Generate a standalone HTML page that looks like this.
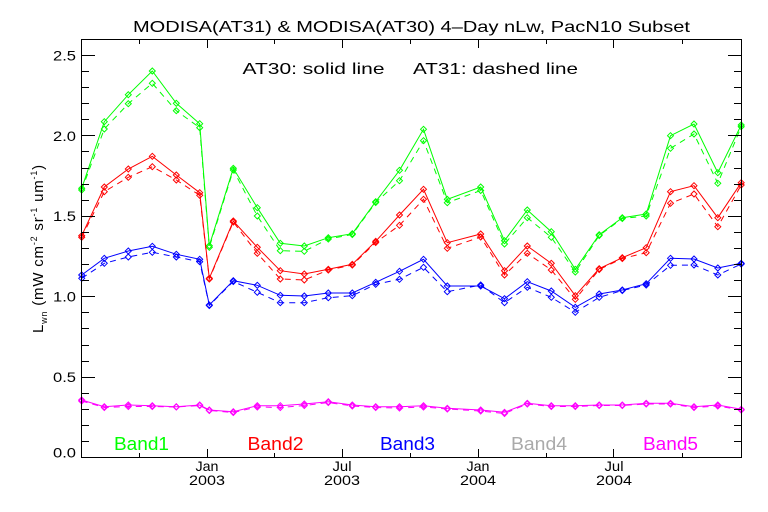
<!DOCTYPE html>
<html>
<head>
<meta charset="utf-8">
<style>
  html,body{margin:0;padding:0;background:#fff;}
  svg{display:block;}
  text{font-family:"Liberation Sans",sans-serif;}
</style>
</head>
<body>
<svg width="768" height="512" viewBox="0 0 768 512" xmlns="http://www.w3.org/2000/svg">
  <defs>
    <marker id="mg" viewBox="0 0 8 8" refX="4" refY="4" markerWidth="8" markerHeight="8" markerUnits="userSpaceOnUse"><path d="M1,4 L4,1 L7,4 L4,7 Z" fill="none" stroke="#00ff00" stroke-width="1"/></marker>
    <marker id="mr" viewBox="0 0 8 8" refX="4" refY="4" markerWidth="8" markerHeight="8" markerUnits="userSpaceOnUse"><path d="M1,4 L4,1 L7,4 L4,7 Z" fill="none" stroke="#ff0000" stroke-width="1"/></marker>
    <marker id="mb" viewBox="0 0 8 8" refX="4" refY="4" markerWidth="8" markerHeight="8" markerUnits="userSpaceOnUse"><path d="M1,4 L4,1 L7,4 L4,7 Z" fill="none" stroke="#0000ff" stroke-width="1"/></marker>
    <marker id="mm" viewBox="0 0 8 8" refX="4" refY="4" markerWidth="8" markerHeight="8" markerUnits="userSpaceOnUse"><path d="M1,4 L4,1 L7,4 L4,7 Z" fill="none" stroke="#ff00ff" stroke-width="1"/></marker>
  </defs>
  <rect width="768" height="512" fill="#fff"/>

  <!-- Title -->
  <text x="411.5" y="32" font-size="16" text-anchor="middle" textLength="557" lengthAdjust="spacingAndGlyphs">MODISA(AT31) &amp; MODISA(AT30) 4–Day nLw, PacN10 Subset</text>

  <!-- data -->
  <g fill="none" stroke-width="1">
    <polyline stroke="#00ff00" marker-start="url(#mg)" marker-mid="url(#mg)" marker-end="url(#mg)" points="81.7,188.3 104.3,121.7 128.3,94.7 152.3,71 176.3,103.3 199.7,123.7 209.3,245.7 233.3,168.3 257.3,207.7 280.3,243.3 304.3,246 328.3,237.7 352.3,233.7 375.7,201.7 399.5,170.3 423.5,129.3 447.3,199.3 480.7,187 504.5,240.7 527.3,210 551.3,231.7 575.3,269.3 599.2,234.7 622.3,217.7 646.2,214 670.5,135.7 694,124 717.8,172.7 741.2,125"/>
    <polyline stroke="#00ff00" stroke-dasharray="6 5" marker-start="url(#mg)" marker-mid="url(#mg)" marker-end="url(#mg)" points="81.7,190 104.3,129 128.3,103.7 152.3,83.3 176.3,110.7 199.7,127.7 209.3,247.3 233.3,170 257.3,216 280.3,250.7 304.3,251.3 328.3,239 352.3,234.5 375.7,202.5 399.5,180.7 423.5,140.7 447.3,202.7 480.7,190.5 504.5,244 527.3,217.7 551.3,237.3 575.3,272 599.2,235.5 622.3,218.5 646.2,216 670.5,148.3 694,134 717.8,183.3 741.2,126.7"/>

    <polyline stroke="#ff0000" marker-start="url(#mr)" marker-mid="url(#mr)" marker-end="url(#mr)" points="81.7,235.7 104.3,187 128.3,169 152.3,156.3 176.3,175 199.7,192.7 209.3,278.3 233.3,221 257.3,247.3 280.3,270.7 304.3,274 328.3,269.3 352.3,264.3 375.7,241.3 399.5,215 423.5,189.3 447.3,242.7 480.7,234 504.5,270.7 527.3,246 551.3,263.3 575.3,295.7 599.2,268.7 622.3,257.7 646.2,247.7 670.5,191.7 694,185.7 717.8,217.7 741.2,182.7"/>
    <polyline stroke="#ff0000" stroke-dasharray="6 5" marker-start="url(#mr)" marker-mid="url(#mr)" marker-end="url(#mr)" points="81.7,237.3 104.3,191.7 128.3,177.3 152.3,166.7 176.3,180 199.7,195.3 209.3,279 233.3,222 257.3,253.3 280.3,279 304.3,280 328.3,270 352.3,265 375.7,242.5 399.5,225.3 423.5,199.3 447.3,248.3 480.7,237 504.5,275 527.3,253.3 551.3,270 575.3,299.3 599.2,269.5 622.3,258.5 646.2,252.7 670.5,203.3 694,194 717.8,226.7 741.2,185"/>

    <polyline stroke="#0000ff" marker-start="url(#mb)" marker-mid="url(#mb)" marker-end="url(#mb)" points="81.7,275 104.3,258.3 128.3,251 152.3,246.3 176.3,254.3 199.7,259.3 209.3,305 233.3,280.7 257.3,285.3 280.3,295.3 304.3,296 328.3,293 352.3,293 375.7,282.3 399.5,271.3 423.5,259.3 447.3,286 480.7,286 504.5,298.7 527.3,281.7 551.3,291 575.3,307.3 599.2,294 622.3,290 646.2,283.7 670.5,258.3 694,259 717.8,268 741.2,263.3"/>
    <polyline stroke="#0000ff" stroke-dasharray="6 5" marker-start="url(#mb)" marker-mid="url(#mb)" marker-end="url(#mb)" points="81.7,278.3 104.3,263.3 128.3,257 152.3,252.3 176.3,257 199.7,261.7 209.3,305.5 233.3,281.5 257.3,292.3 280.3,302.7 304.3,302.7 328.3,297.7 352.3,295.7 375.7,284.3 399.5,279.3 423.5,267.3 447.3,291.7 480.7,285 504.5,302.7 527.3,287.3 551.3,297.3 575.3,312.3 599.2,297.3 622.3,290.5 646.2,285 670.5,265.3 694,265 717.8,275 741.2,264"/>

    <polyline stroke="#ff00ff" marker-start="url(#mm)" marker-mid="url(#mm)" marker-end="url(#mm)" points="81.7,400 104.3,406.7 128.3,405 152.3,405.7 176.3,406.7 199.7,405 209.3,410 233.3,411.7 257.3,405.7 280.3,405.7 304.3,404 328.3,401.7 352.3,405 375.7,406.7 399.5,406.7 423.5,405.7 447.3,408.3 480.7,410 504.5,412.3 527.3,403.3 551.3,405.7 575.3,405.7 599.2,405 622.3,405 646.2,403.3 670.5,403.3 694,406.7 717.8,405 741.2,409.3"/>
    <polyline stroke="#ff00ff" stroke-dasharray="6 5" marker-start="url(#mm)" marker-mid="url(#mm)" marker-end="url(#mm)" points="81.7,401 104.3,407.5 128.3,406.5 152.3,406.5 176.3,407 199.7,405.5 209.3,410.5 233.3,412.5 257.3,407 280.3,407.5 304.3,405.5 328.3,402.5 352.3,406 375.7,407.5 399.5,408 423.5,407 447.3,409 480.7,411 504.5,413.5 527.3,404 551.3,406.5 575.3,406.5 599.2,405.5 622.3,405.5 646.2,404 670.5,404 694,407.5 717.8,406 741.2,410"/>
  </g>

  <!-- Frame and ticks -->
  <g stroke="#000" stroke-width="1" fill="none" shape-rendering="crispEdges">
    <rect x="81.5" y="39.5" width="660" height="418"/>
    <path d="M82,457.5h13 M82,377.5h13 M82,296.5h13 M82,216.5h13 M82,135.5h13 M82,55.5h13
             M741,377.5h-13 M741,296.5h-13 M741,216.5h-13 M741,135.5h-13 M741,55.5h-13"/>
    <path d="M82,441.5h7 M82,425.5h7 M82,409.5h7 M82,393.5h7 M82,361.5h7 M82,345.5h7 M82,328.5h7 M82,312.5h7 M82,280.5h7 M82,264.5h7 M82,248.5h7 M82,232.5h7 M82,200.5h7 M82,184.5h7 M82,168.5h7 M82,151.5h7 M82,119.5h7 M82,103.5h7 M82,87.5h7 M82,71.5h7
             M741,441.5h-7 M741,425.5h-7 M741,409.5h-7 M741,393.5h-7 M741,361.5h-7 M741,345.5h-7 M741,328.5h-7 M741,312.5h-7 M741,280.5h-7 M741,264.5h-7 M741,248.5h-7 M741,232.5h-7 M741,200.5h-7 M741,184.5h-7 M741,168.5h-7 M741,151.5h-7 M741,119.5h-7 M741,103.5h-7 M741,87.5h-7 M741,71.5h-7"/>
    <path d="M207.5,457v-8 M342.5,457v-8 M478.5,457v-8 M613.5,457v-8
             M139.5,457v-4 M274.5,457v-4 M410.5,457v-4 M546.5,457v-4 M682.5,457v-4"/>
    <path d="M207.5,40v8 M342.5,40v8 M478.5,40v8 M613.5,40v8
             M139.5,40v4 M274.5,40v4 M410.5,40v4 M546.5,40v4 M682.5,40v4"/>
  </g>

  <!-- y tick labels -->
  <g font-size="14" text-anchor="end" fill="#000">
    <text x="76" y="457.5" textLength="23" lengthAdjust="spacingAndGlyphs">0.0</text>
    <text x="76" y="382" textLength="23" lengthAdjust="spacingAndGlyphs">0.5</text>
    <text x="76" y="301.5" textLength="23" lengthAdjust="spacingAndGlyphs">1.0</text>
    <text x="76" y="221" textLength="23" lengthAdjust="spacingAndGlyphs">1.5</text>
    <text x="76" y="141" textLength="23" lengthAdjust="spacingAndGlyphs">2.0</text>
    <text x="76" y="60.5" textLength="23" lengthAdjust="spacingAndGlyphs">2.5</text>
  </g>

  <!-- x tick labels -->
  <g font-size="14" text-anchor="middle" fill="#000">
    <text x="207" y="471" textLength="23" lengthAdjust="spacingAndGlyphs">Jan</text>
    <text x="207" y="485" textLength="36" lengthAdjust="spacingAndGlyphs">2003</text>
    <text x="342" y="471" textLength="19" lengthAdjust="spacingAndGlyphs">Jul</text>
    <text x="342" y="485" textLength="36" lengthAdjust="spacingAndGlyphs">2003</text>
    <text x="478" y="471" textLength="23" lengthAdjust="spacingAndGlyphs">Jan</text>
    <text x="478" y="485" textLength="36" lengthAdjust="spacingAndGlyphs">2004</text>
    <text x="614" y="471" textLength="19" lengthAdjust="spacingAndGlyphs">Jul</text>
    <text x="614" y="485" textLength="36" lengthAdjust="spacingAndGlyphs">2004</text>
  </g>

  <!-- annotation -->
  <text x="242.5" y="74" font-size="16" textLength="142" lengthAdjust="spacingAndGlyphs">AT30: solid line</text>
  <text x="413" y="74" font-size="16" textLength="165" lengthAdjust="spacingAndGlyphs">AT31: dashed line</text>

  <!-- band labels -->
  <g font-size="18">
    <text x="114" y="450" fill="#00ff00" textLength="55" lengthAdjust="spacingAndGlyphs">Band1</text>
    <text x="247.5" y="450" fill="#ff0000" textLength="56" lengthAdjust="spacingAndGlyphs">Band2</text>
    <text x="380" y="450" fill="#0000ff" textLength="55" lengthAdjust="spacingAndGlyphs">Band3</text>
    <text x="511" y="450" fill="#aaaaaa" textLength="56" lengthAdjust="spacingAndGlyphs">Band4</text>
    <text x="643" y="450" fill="#ff00ff" textLength="55" lengthAdjust="spacingAndGlyphs">Band5</text>
  </g>

  <!-- y axis title -->
  <g transform="translate(43,333) rotate(-90)">
    <text x="0" y="0" font-size="15" letter-spacing="0.8" fill="#000">L<tspan font-size="9" dy="4">wn</tspan><tspan dy="-4"> (mW cm</tspan><tspan font-size="9" dy="-6">-2</tspan><tspan dy="6"> sr</tspan><tspan font-size="9" dy="-6">-1</tspan><tspan dy="6"> um</tspan><tspan font-size="9" dy="-6">-1</tspan><tspan dy="6">)</tspan></text>
  </g>
</svg>
</body>
</html>
